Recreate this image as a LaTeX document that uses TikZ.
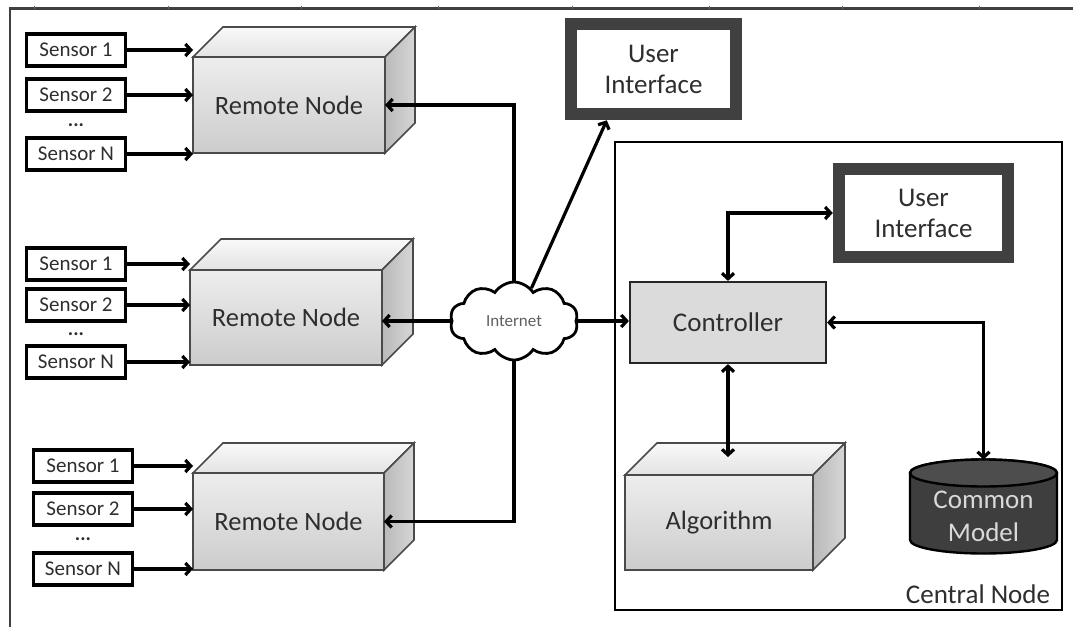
\documentclass[tikz,border=0pt]{standalone}
\usepackage{fontspec}
\setmainfont{Carlito}
\usetikzlibrary{arrows.meta,shapes.geometric,shapes.symbols,calc}

\definecolor{edgegray}{HTML}{4A4A4A}
\definecolor{uigray}{HTML}{404040}
\definecolor{labelgray}{HTML}{2E2E2E}
\definecolor{dbgray}{HTML}{3E3E3E}

% front face of a box is a named node; top and side faces are drawn from its anchors
\newcommand\cubeblock[7]{%
  \node[frontface, minimum width=#4, minimum height=#5] (#1) at (#2,#3) {#6};
  \path[topface] (#1.north west) -- ++(#7,-#7) -- ++(#4,0) -- (#1.north east) -- cycle;
  \path[sideface] (#1.north east) -- ++(#7,-#7) -- ++(0,#5) -- (#1.south east) -- cycle;
}

\tikzset{
  frontface/.style={draw=edgegray, line width=1.6pt, outer sep=0pt,
    top color=gray!14, bottom color=gray!40, text=labelgray, font=\fontsize{26.5}{28}\selectfont},
  topface/.style={draw=edgegray, line width=1.6pt, top color=gray!5, bottom color=gray!22},
  sideface/.style={draw=edgegray, line width=1.6pt, left color=gray!55, right color=gray!32},
  sensorbox/.style={draw=black, line width=3.2pt, fill=white, minimum width=99, minimum height=32,
    text=labelgray, font=\fontsize{21}{22}\selectfont},
  dotlabel/.style={font=\bfseries\fontsize{20}{20}\selectfont, text=labelgray},
  uibox/.style={draw=uigray, line width=12.5pt, fill=white, align=center,
    text=labelgray, font=\fontsize{27}{31}\selectfont},
  ctrlbox/.style={draw=black!85, line width=2.2pt, fill=gray!28, text=labelgray,
    font=\fontsize{27}{28}\selectfont},
  arr/.style={line width=3.2pt, -{Straight Barb[length=5.5pt,width=12pt]}},
  dbl/.style={line width=3.2pt, {Straight Barb[length=5.5pt,width=12pt]}-{Straight Barb[length=5.5pt,width=12pt]}},
  dbcap/.style={x radius=73.5pt, y radius=13.5pt},
}

\begin{document}
\begin{tikzpicture}[x=1pt,y=-1pt]
\useasboundingbox (0,0) rectangle (1073,627);
\fill[white] (0,0) rectangle (1073,627);

% outer frame: top rule with small ticks, left rule
\draw[line width=2.2pt, black!75] (10,627) -- (10,8.5) -- (1073,8.5);
\foreach \t in {34,168,301,438,572,709,842,979}
  \draw[line width=0.8pt, black!60] (\t,5.5) -- (\t,8.5);

% ---------- remote nodes ----------
\cubeblock{rn1}{289}{105}{192}{96}{Remote Node}{30}
\cubeblock{rn2}{286}{317.5}{192}{95}{Remote Node}{31}
\cubeblock{rn3}{288.5}{521.5}{191}{97}{Remote Node}{30}

% sensors of the first remote node
\node[sensorbox] (s11) at (76,50) {Sensor 1};
\node[sensorbox] (s12) at (76,95) {Sensor 2};
\node[dotlabel] (d1) at (76,125) {...};
\node[sensorbox] (s1n) at (76,154) {Sensor N};
% sensors of the second remote node
\node[sensorbox] (s21) at (76,264) {Sensor 1};
\node[sensorbox] (s22) at (76,305) {Sensor 2};
\node[dotlabel] (d2) at (76,334) {...};
\node[sensorbox] (s2n) at (76,362) {Sensor N};
% sensors of the third remote node
\node[sensorbox] (s31) at (83,466) {Sensor 1};
\node[sensorbox] (s32) at (83,509) {Sensor 2};
\node[dotlabel] (d3) at (83,539) {...};
\node[sensorbox] (s3n) at (83,569) {Sensor N};

\foreach \s/\r in {s11/rn1,s12/rn1,s1n/rn1,s21/rn2,s22/rn2,s2n/rn2,s31/rn3,s32/rn3,s3n/rn3}
  \draw[arr] (\s.east) -- (\s.east -| \r.west);

% ---------- internet ----------
\node[cloud, cloud puffs=10, cloud puff arc=115, aspect=1.6, draw=black, line width=2.8pt,
  fill=white, minimum width=128, minimum height=78, inner sep=0pt,
  text=gray!75!black, font=\fontsize{17}{17}\selectfont] (net) at (514,321) {Internet};

% ---------- user interface outside ----------
\node[uibox, minimum width=165, minimum height=90] (ui1) at (653.5,69) {User\\Interface};

% ---------- central node ----------
\node[draw=black, line width=2.8pt, minimum width=447, minimum height=468, inner sep=0pt] (central)
  at (838.5,376) {};
\node[text=labelgray, font=\fontsize{27}{28}\selectfont] (clabel) at (978,594) {Central Node};

\node[uibox, minimum width=169, minimum height=88] (ui2) at (923.5,213) {User\\Interface};
\node[ctrlbox, minimum width=196, minimum height=81] (ctrl) at (728,322.5) {Controller};
\cubeblock{alg}{719}{522.5}{188}{95}{Algorithm}{32}

% common model: a database drum around a named frame node
\node[minimum width=147, minimum height=94, inner sep=0pt, outer sep=0pt] (model) at (983.5,506.5) {};
\draw[line width=2.4pt, fill=dbgray]
  ([yshift=-13.5pt]model.north west) -- ([yshift=13.5pt]model.south west)
  arc[start angle=180, end angle=360, dbcap] -- ([yshift=-13.5pt]model.north east)
  arc[start angle=0, end angle=180, dbcap] -- cycle;
\draw[line width=2.4pt, fill=dbgray!92!white] ([yshift=-13.5pt]model.north) ellipse[dbcap];
\node[align=center, text=gray!30, font=\fontsize{27}{33}\selectfont] (modeltext)
  at ([yshift=-10pt]model.center) {Common\\Model};
\coordinate (algtop) at (728,457);

% ---------- connectors ----------
\draw[arr] (net.north) |- (rn1.east);
\draw[arr] (net.west) -- (net.west -| rn2.east);
\draw[arr] (net.south) |- (rn3.east);
\draw[arr] (net.62) -- ([xshift=42pt]ui1.south west);
\draw[arr] (net.east) -- (net.east -| ctrl.west);
\draw[dbl] (ctrl.north) |- (ui2.west);
\draw[dbl] (ctrl.south) -- (algtop);
\draw[dbl] (ctrl.east) -| (model.north);
\end{tikzpicture}
\end{document}
